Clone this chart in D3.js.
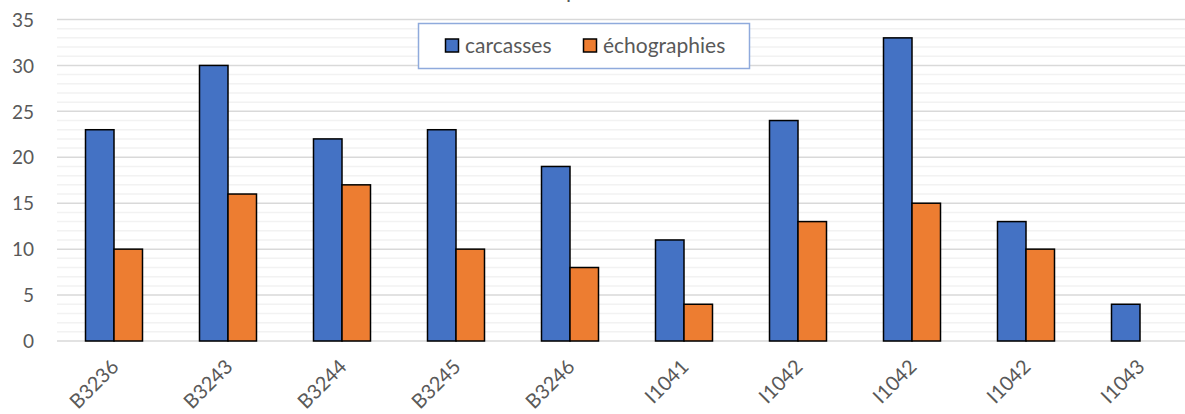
<!DOCTYPE html>
<html>
<head>
<meta charset="utf-8">
<script src="https://cdn.jsdelivr.net/npm/d3@7"></script>
<style>
  html, body { margin: 0; padding: 0; background: #fff; }
  svg { display: block; }
  text { font-family: Lato, "Open Sans", "Liberation Sans", sans-serif; fill: #595959; }
</style>
</head>
<body>
<svg id="chart" width="1185" height="414"></svg>
<script>
const categories = ["B3236", "B3243", "B3244", "B3245", "B3246", "I1041", "I1042", "I1042", "I1042", "I1043"];
const seriesNames = ["carcasses", "échographies"];
const carcasses = [23, 30, 22, 23, 19, 11, 24, 33, 13, 4];
const echographies = [10, 16, 17, 10, 8, 4, 13, 15, 10, null];
const yTicks = [0, 5, 10, 15, 20, 25, 30, 35];
const colors = ["#4472c4", "#ed7d31"];

const svg = d3.select("#chart");
const W = 1185, H = 414;
const plotLeft = 57, plotRight = 1197, plotTop = 19.5, plotBottom = 341;

const y = d3.scaleLinear().domain([0, 35]).range([plotBottom, plotTop]);
const x0 = d3.scaleBand().domain(d3.range(categories.length))
  .range([plotLeft, plotRight]).paddingInner(0.5).paddingOuter(0.25);
const x1 = d3.scaleBand().domain(seriesNames).range([0, x0.bandwidth()]);

// partially visible title (cut off at top, as in the reference)
svg.append("text").attr("x", 566).attr("y", -2).attr("font-size", 22).text("p");

// minor gridlines
const minor = d3.range(1, 36).filter(v => v % 5 !== 0);
svg.append("g").selectAll("line").data(minor).join("line")
  .attr("x1", plotLeft).attr("x2", W)
  .attr("y1", d => y(d)).attr("y2", d => y(d))
  .attr("stroke", "#f2f2f2").attr("stroke-width", 1.5);
// major gridlines
svg.append("g").selectAll("line").data(yTicks).join("line")
  .attr("x1", plotLeft).attr("x2", W)
  .attr("y1", d => y(d)).attr("y2", d => y(d))
  .attr("stroke", "#d9d9d9").attr("stroke-width", 1.5);

// y axis labels
const yAxis = d3.axisLeft(y).tickValues(yTicks).tickSize(0).tickPadding(0);
const gy = svg.append("g").attr("transform", `translate(34,0)`).call(yAxis);
gy.select(".domain").remove();
gy.selectAll("text").attr("font-size", 19).attr("fill", "#595959")
  .style("font-family", "Lato, 'Open Sans', sans-serif").attr("dy", "0.35em");

// bars
const data = categories.map((c, i) => ({ i, values: [carcasses[i], echographies[i]] }));
const groups = svg.append("g").selectAll("g").data(data).join("g")
  .attr("transform", d => `translate(${x0(d.i)},0)`);
groups.selectAll("rect")
  .data(d => d.values.map((v, k) => ({ k, v })).filter(e => e.v != null && e.v > 0))
  .join("rect")
  .attr("x", d => x1(seriesNames[d.k]))
  .attr("width", x1.bandwidth())
  .attr("y", d => y(d.v))
  .attr("height", d => y(0) - y(d.v))
  .attr("fill", d => colors[d.k])
  .attr("stroke", "#000").attr("stroke-width", 1.5);

// x axis labels
const xAxis = d3.axisBottom(x0).tickFormat(i => categories[i]).tickSize(0).tickPadding(0);
const gx = svg.append("g").attr("transform", `translate(0,${plotBottom})`).call(xAxis);
gx.select(".domain").remove();
gx.selectAll("text")
  .attr("font-size", 20).attr("fill", "#595959")
  .style("font-family", "Lato, 'Open Sans', sans-serif")
  .attr("text-anchor", "end").attr("dy", 0).attr("y", 0)
  .attr("transform", "translate(6,27) rotate(-45)");

// legend
const lg = svg.append("g");
lg.append("rect").attr("x", 418.5).attr("y", 23.5).attr("width", 331).attr("height", 45)
  .attr("fill", "#fff").attr("stroke", "#8faadc").attr("stroke-width", 1.5);
const items = [{ name: seriesNames[0], x: 445 }, { name: seriesNames[1], x: 583 }];
items.forEach((it, k) => {
  lg.append("rect").attr("x", it.x + 0.5).attr("y", 39).attr("width", 13).attr("height", 13)
    .attr("fill", colors[k]).attr("stroke", "#000").attr("stroke-width", 1.5);
  lg.append("text").attr("x", it.x + 20).attr("y", 53).attr("font-size", 21).text(it.name);
});
</script>
</body>
</html>
